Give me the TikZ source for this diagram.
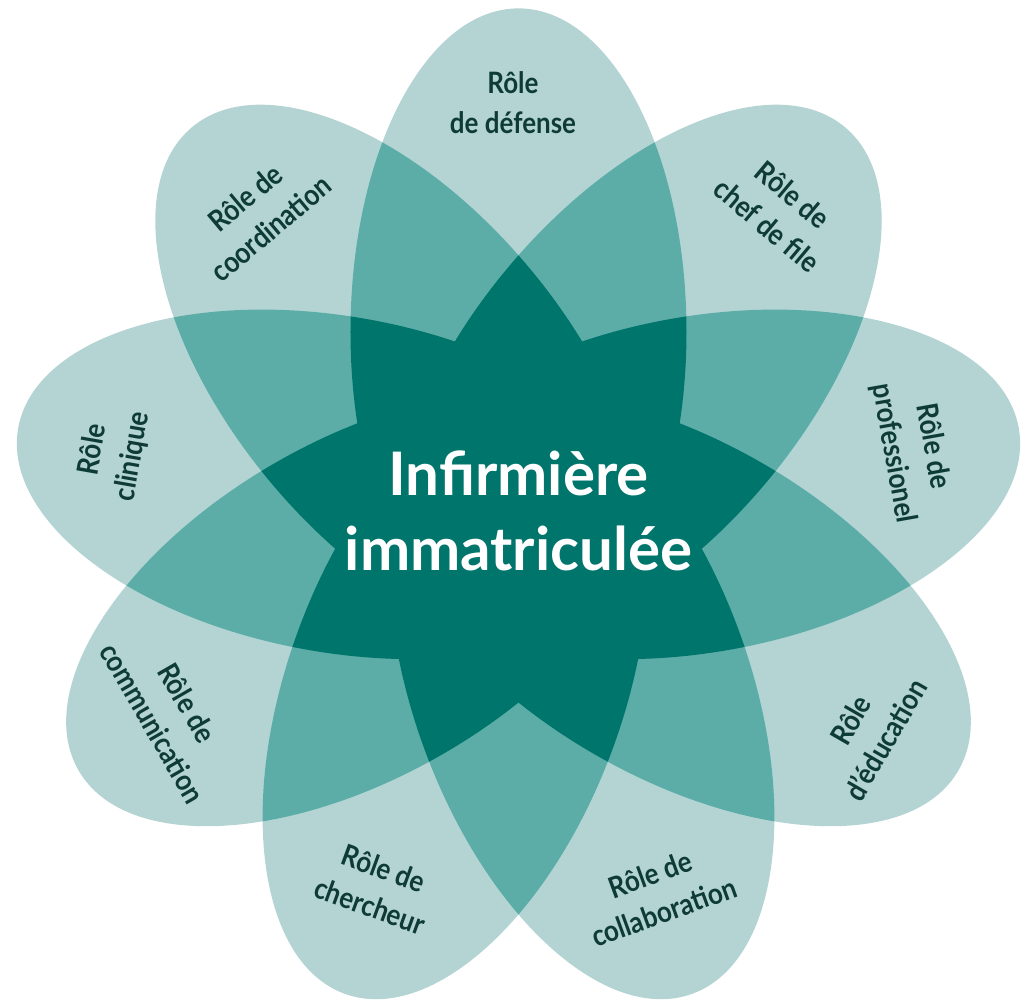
\documentclass[tikz,border=0pt]{standalone}
\usepackage{fontspec}
\setmainfont{Lato}
\newfontfamily\rolefont[FakeStretch=0.88]{Lato}
\usetikzlibrary{positioning}
\definecolor{petallight}{HTML}{B3D4D3}
\definecolor{petalmid}{HTML}{5CADA8}
\definecolor{petaldark}{HTML}{00756C}
\definecolor{roletext}{HTML}{0F3B37}
\tikzset{
  petal/.style={insert path={(184.5,0) ellipse [x radius=323.5pt, y radius=168pt]}},
  role/.style={text=roletext, font=\rolefont\bfseries\fontsize{29.5}{40}\selectfont, align=center},
  nurse/.style={text=white, font=\bfseries\fontsize{60}{75}\selectfont, align=center}
}
\begin{document}
\begin{tikzpicture}[x=1pt,y=1pt]
\useasboundingbox (-518.5,-484.6) rectangle (512.5,516.4);
\fill[white] (-518.5,-484.6) rectangle (512.5,516.4);
% petals
\foreach \a in {90,130,...,410}
  \fill[petallight, rotate=\a, petal];
% where two neighbours overlap
\foreach \a in {90,130,...,410} {
  \begin{scope}
    \clip[rotate=\a, petal];
    \fill[petalmid, rotate=\a+40, petal];
  \end{scope}
}
% the star in the middle
\foreach \a in {90,130,...,410} {
  \begin{scope}
    \clip[rotate=\a, petal];
    \fill[petaldark, rotate=\a+80, petal];
  \end{scope}
}
\node[nurse] (nurse) at (0,5.4) {Infirmière\\immatriculée};
\node[role] (defense) at (-5.5,413.4) {Rôle\\de défense};
\node[role, rotate=-40] (chef) at (261.5,306.4) {Rôle de\\chef de file};
\node[role, rotate=-80] (prof) at (394.5,66.4) {Rôle de\\professionel};
\node[role, rotate=60] (educ) at (349.5,-213.6) {Rôle\\d’éducation};
\node[role, rotate=20] (collab) at (138.5,-376.6) {Rôle de\\collaboration};
\node[role, rotate=-20] (cherch) at (-141.5,-370.6) {Rôle de\\chercheur};
\node[role, rotate=-60] (comm) at (-348.5,-196.6) {Rôle de\\communication};
\node[role, rotate=80] (clin) at (-405.5,63.4) {Rôle\\clinique};
\node[role, rotate=40] (coord) at (-260.5,303.4) {Rôle de\\coordination};
\end{tikzpicture}
\end{document}
